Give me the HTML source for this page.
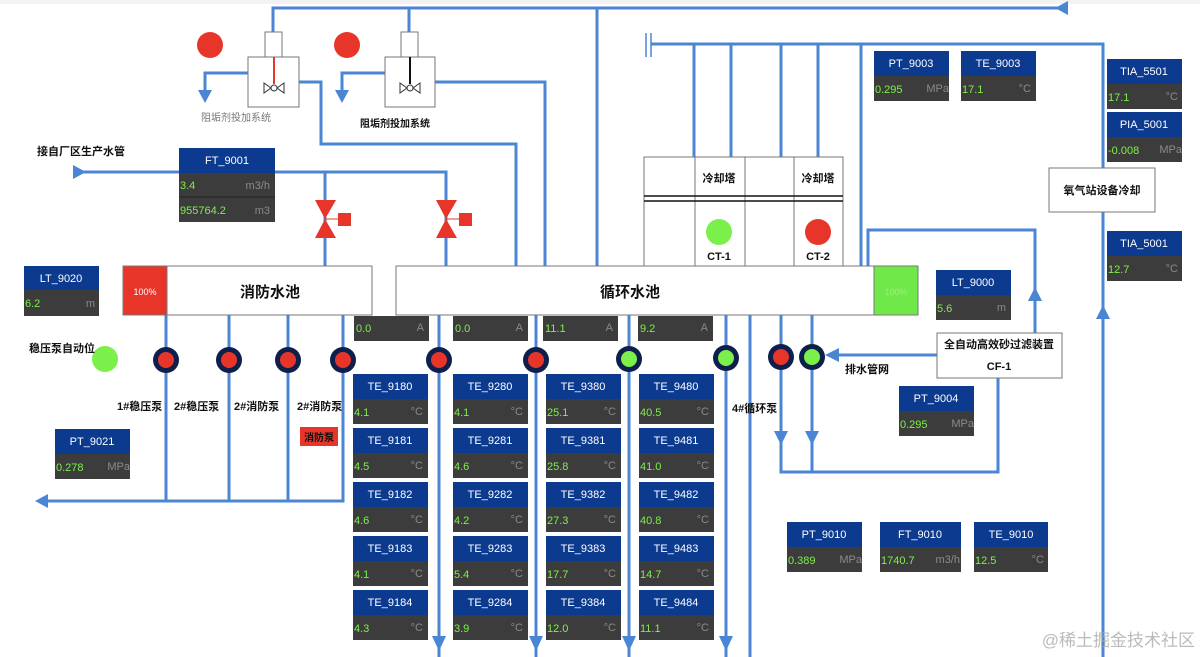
<!DOCTYPE html>
<html><head><meta charset="utf-8"><style>
html,body{margin:0;padding:0;background:#fff;}
svg{display:block;font-family:"Liberation Sans","Noto Sans CJK SC",sans-serif;}
.p{stroke:#4a86d4;stroke-width:3;fill:none;}
.a{fill:#4a86d4;}
.hd{fill:#0c3a8e;}
.bd{fill:#3c3c3c;}
.ht{fill:#fff;font-size:11px;text-anchor:middle;}
.v{fill:#7cf04a;font-size:11px;}
.u{fill:#8a8a8a;font-size:11px;text-anchor:end;}
.lb{fill:#111;font-size:11px;font-weight:bold;}
.bx{fill:#fff;stroke:#777;stroke-width:1;}
</style></head><body>
<svg width="1200" height="657" viewBox="0 0 1200 657" xmlns="http://www.w3.org/2000/svg">
<rect x="0" y="0" width="1200" height="4" fill="#f3f3f3"/>
<path class="p" d="M273 32V8H1062M409 32V8M597 8V266"/>
<polygon class="a" points="1055,8 1068,1 1068,15"/>
<path class="p" d="M651 44H1103V168M694 44V157M731 44V157M781 44V157M818 44V157M861 44V266"/>
<path d="M646 33V57M651 33V57" stroke="#4a86d4" stroke-width="1.5"/>
<path class="p" d="M248 73H205V92M298 82H321V144H516V266"/>
<polygon class="a" points="198,90 212,90 205,103"/>
<path class="p" d="M385 73H342V92M435 82H545V266"/>
<polygon class="a" points="335,90 349,90 342,103"/>
<circle cx="210" cy="45" r="13" fill="#e8352a"/>
<circle cx="347" cy="45" r="13" fill="#e8352a"/>
<rect class="bx" x="265" y="32" width="17" height="25"/><rect class="bx" x="248" y="57" width="51" height="50"/>
<line x1="274" y1="57" x2="274" y2="84" stroke="#e8352a" stroke-width="2"/>
<path d="M264 83L271 88L264 93ZM284 83L277 88L284 93Z" fill="#fff" stroke="#333" stroke-width="1"/><circle cx="274" cy="88" r="3" fill="#fff" stroke="#333"/>
<rect class="bx" x="401" y="32" width="17" height="25"/><rect class="bx" x="385" y="57" width="50" height="50"/>
<line x1="410" y1="57" x2="410" y2="84" stroke="#111" stroke-width="2"/>
<path d="M400 83L407 88L400 93ZM420 83L413 88L420 93Z" fill="#fff" stroke="#333" stroke-width="1"/><circle cx="410" cy="88" r="3" fill="#fff" stroke="#333"/>
<text x="201" y="121" font-size="10" fill="#777">阻垢剂投加系统</text>
<text x="360" y="127" font-size="10" fill="#111" font-weight="bold">阻垢剂投加系统</text>
<text x="37" y="155" class="lb" font-size="10">接自厂区生产水管</text>
<path class="p" d="M82 172H446V266M325 172V266"/>
<polygon class="a" points="73,165 86,172 73,179"/>
<g fill="#e8352a">
<polygon points="315,200 336,200 325,219"/><polygon points="315,238 336,238 325,219"/><rect x="338" y="213" width="13" height="13"/><line x1="325" y1="219" x2="338" y2="219" stroke="#e8352a"/>
<polygon points="436,200 457,200 446,219"/><polygon points="436,238 457,238 446,219"/><rect x="459" y="213" width="13" height="13"/><line x1="446" y1="219" x2="459" y2="219" stroke="#e8352a"/>
</g>
<rect class="hd" x="179" y="148" width="96" height="25"/><text class="ht" x="227" y="164">FT_9001</text>
<rect class="bd" x="179" y="173" width="96" height="49"/><line x1="179" y1="197" x2="275" y2="197" stroke="#222"/>
<text class="v" x="180" y="189">3.4</text><text class="u" x="270" y="189">m3/h</text>
<text class="v" x="180" y="214">955764.2</text><text class="u" x="270" y="214">m3</text>
<rect class="bx" x="644" y="157" width="199" height="109"/>
<path d="M695 157V266M745 157V266M794 157V266" stroke="#777"/>
<path d="M644 196H843M644 201H843" stroke="#111" stroke-width="1.5"/>
<text x="719" y="182" text-anchor="middle" class="lb">冷却塔</text><text x="818" y="182" text-anchor="middle" class="lb">冷却塔</text>
<circle cx="719" cy="232" r="13" fill="#7cf04a"/><circle cx="818" cy="232" r="13" fill="#e8352a"/>
<text x="719" y="260" text-anchor="middle" class="lb" font-size="10">CT-1</text><text x="818" y="260" text-anchor="middle" class="lb" font-size="10">CT-2</text>
<path class="p" d="M868 266V230H1035V333M1103 212V657"/>
<polygon class="a" points="1028,301 1035,287 1042,301"/>
<polygon class="a" points="1096,319 1103,305 1110,319"/>
<rect class="bx" x="1049" y="168" width="106" height="44"/>
<text x="1102" y="194" text-anchor="middle" class="lb">氧气站设备冷却</text>
<rect class="bx" x="123" y="266" width="249" height="49"/><rect x="123" y="266" width="44" height="49" fill="#e8352a" stroke="#777"/>
<text x="145" y="295" font-size="9" fill="#fff" text-anchor="middle">100%</text>
<text x="270" y="297" text-anchor="middle" font-size="15" font-weight="bold" fill="#111">消防水池</text>
<rect class="bx" x="396" y="266" width="522" height="49"/><rect x="874" y="266" width="44" height="49" fill="#6fe84a" stroke="#777"/>
<text x="896" y="295" font-size="9" fill="#9ff07a" text-anchor="middle">100%</text>
<text x="630" y="297" text-anchor="middle" font-size="15" font-weight="bold" fill="#111">循环水池</text>
<path class="p" d="M166 315V501M229 315V501M288 315V501M343 315V501H46"/>
<polygon class="a" points="35,501 48,494 48,508"/>
<path class="p" d="M439 315V657M536 315V657M629 315V657M726 315V657M750 315V657M781 315V472H998V378M812 315V472"/>
<g class="a"><polygon points="432,636 446,636 439,651"/><polygon points="529,636 543,636 536,651"/><polygon points="622,636 636,636 629,651"/><polygon points="719,636 733,636 726,651"/><polygon points="774,431 788,431 781,445"/><polygon points="805,431 819,431 812,445"/></g>
<path class="p" d="M937 355H834"/><polygon class="a" points="825,355 839,348 839,362"/>
<g fill="#0d1f4a"><circle cx="166" cy="360" r="13"/><circle cx="229" cy="360" r="13"/><circle cx="288" cy="360" r="13"/><circle cx="343" cy="360" r="13"/><circle cx="439" cy="360" r="13"/><circle cx="536" cy="360" r="13"/><circle cx="629" cy="359" r="13"/><circle cx="726" cy="358" r="13"/><circle cx="781" cy="357" r="13"/><circle cx="812" cy="357" r="13"/></g>
<g fill="#e8352a"><circle cx="166" cy="360" r="8"/><circle cx="229" cy="360" r="8"/><circle cx="288" cy="360" r="8"/><circle cx="343" cy="360" r="8"/><circle cx="439" cy="360" r="8"/><circle cx="536" cy="360" r="8"/><circle cx="781" cy="357" r="8"/></g>
<g fill="#7cf04a"><circle cx="629" cy="359" r="8"/><circle cx="726" cy="358" r="8"/><circle cx="812" cy="357" r="8"/></g>
<circle cx="105" cy="359" r="13" fill="#7cf04a"/>
<text x="29" y="352" class="lb" font-size="10">稳压泵自动位</text>
<text x="117" y="410" class="lb" font-size="10">1#稳压泵</text>
<text x="174" y="410" class="lb" font-size="10">2#稳压泵</text>
<text x="234" y="410" class="lb" font-size="10">2#消防泵</text>
<text x="297" y="410" class="lb" font-size="10">2#消防泵</text>
<rect x="300" y="427" width="38" height="19" fill="#e8352a"/><text x="319" y="441" text-anchor="middle" font-size="10" fill="#111" font-weight="bold">消防泵</text>
<text x="732" y="412" class="lb" font-size="10">4#循环泵</text>
<text x="845" y="373" class="lb" font-size="10">排水管网</text>
<rect class="bx" x="937" y="333" width="125" height="45"/>
<text x="999" y="348" text-anchor="middle" class="lb">全自动高效砂过滤装置</text>
<text x="999" y="370" text-anchor="middle" class="lb" font-size="10">CF-1</text>
<g>
<rect class="bd" x="354" y="316" width="75" height="25"/><text class="v" x="356" y="332">0.0</text><text class="u" x="424" y="331">A</text>
<rect class="bd" x="453" y="316" width="75" height="25"/><text class="v" x="455" y="332">0.0</text><text class="u" x="523" y="331">A</text>
<rect class="bd" x="543" y="316" width="75" height="25"/><text class="v" x="545" y="332">11.1</text><text class="u" x="613" y="331">A</text>
<rect class="bd" x="638" y="316" width="75" height="25"/><text class="v" x="640" y="332">9.2</text><text class="u" x="708" y="331">A</text>
</g>
<g>
<rect class="hd" x="24" y="266" width="75" height="24"/><text class="ht" x="61" y="282">LT_9020</text><rect class="bd" x="24" y="290" width="75" height="26"/><text class="v" x="25" y="307">6.2</text><text class="u" x="95" y="307">m</text>
<rect class="hd" x="55" y="429" width="75" height="25"/><text class="ht" x="92" y="445">PT_9021</text><rect class="bd" x="55" y="454" width="75" height="25"/><text class="v" x="56" y="471">0.278</text><text class="u" x="130" y="470">MPa</text>
<rect class="hd" x="874" y="51" width="75" height="25"/><text class="ht" x="911" y="67">PT_9003</text><rect class="bd" x="874" y="76" width="75" height="25"/><text class="v" x="875" y="93">0.295</text><text class="u" x="949" y="92">MPa</text>
<rect class="hd" x="961" y="51" width="75" height="25"/><text class="ht" x="998" y="67">TE_9003</text><rect class="bd" x="961" y="76" width="75" height="25"/><text class="v" x="962" y="93">17.1</text><text class="u" x="1031" y="92">°C</text>
<rect class="hd" x="1107" y="59" width="75" height="25"/><text class="ht" x="1144" y="75">TIA_5501</text><rect class="bd" x="1107" y="84" width="75" height="25"/><text class="v" x="1108" y="101">17.1</text><text class="u" x="1178" y="100">°C</text>
<rect class="hd" x="1107" y="112" width="75" height="25"/><text class="ht" x="1144" y="128">PIA_5001</text><rect class="bd" x="1107" y="137" width="75" height="25"/><text class="v" x="1108" y="154">-0.008</text><text class="u" x="1182" y="153">MPa</text>
<rect class="hd" x="1107" y="231" width="75" height="25"/><text class="ht" x="1144" y="247">TIA_5001</text><rect class="bd" x="1107" y="256" width="75" height="25"/><text class="v" x="1108" y="273">12.7</text><text class="u" x="1178" y="272">°C</text>
<rect class="hd" x="936" y="270" width="75" height="25"/><text class="ht" x="973" y="286">LT_9000</text><rect class="bd" x="936" y="295" width="75" height="25"/><text class="v" x="937" y="312">5.6</text><text class="u" x="1006" y="311">m</text>
<rect class="hd" x="899" y="386" width="75" height="25"/><text class="ht" x="936" y="402">PT_9004</text><rect class="bd" x="899" y="411" width="75" height="25"/><text class="v" x="900" y="428">0.295</text><text class="u" x="974" y="427">MPa</text>
<rect class="hd" x="787" y="522" width="75" height="25"/><text class="ht" x="824" y="538">PT_9010</text><rect class="bd" x="787" y="547" width="75" height="25"/><text class="v" x="788" y="564">0.389</text><text class="u" x="862" y="563">MPa</text>
<rect class="hd" x="880" y="522" width="81" height="25"/><text class="ht" x="920" y="538">FT_9010</text><rect class="bd" x="880" y="547" width="81" height="25"/><text class="v" x="881" y="564">1740.7</text><text class="u" x="960" y="563">m3/h</text>
<rect class="hd" x="974" y="522" width="74" height="25"/><text class="ht" x="1011" y="538">TE_9010</text><rect class="bd" x="974" y="547" width="74" height="25"/><text class="v" x="975" y="564">12.5</text><text class="u" x="1044" y="563">°C</text>
</g>
<g>
<rect class="hd" x="353" y="374" width="75" height="25"/><text class="ht" x="390" y="390">TE_9180</text><rect class="bd" x="353" y="399" width="75" height="25"/><text class="v" x="354" y="416">4.1</text><text class="u" x="423" y="415">°C</text>
<rect class="hd" x="353" y="428" width="75" height="25"/><text class="ht" x="390" y="444">TE_9181</text><rect class="bd" x="353" y="453" width="75" height="25"/><text class="v" x="354" y="470">4.5</text><text class="u" x="423" y="469">°C</text>
<rect class="hd" x="353" y="482" width="75" height="25"/><text class="ht" x="390" y="498">TE_9182</text><rect class="bd" x="353" y="507" width="75" height="25"/><text class="v" x="354" y="524">4.6</text><text class="u" x="423" y="523">°C</text>
<rect class="hd" x="353" y="536" width="75" height="25"/><text class="ht" x="390" y="552">TE_9183</text><rect class="bd" x="353" y="561" width="75" height="25"/><text class="v" x="354" y="578">4.1</text><text class="u" x="423" y="577">°C</text>
<rect class="hd" x="353" y="590" width="75" height="25"/><text class="ht" x="390" y="606">TE_9184</text><rect class="bd" x="353" y="615" width="75" height="25"/><text class="v" x="354" y="632">4.3</text><text class="u" x="423" y="631">°C</text>
<rect class="hd" x="453" y="374" width="75" height="25"/><text class="ht" x="490" y="390">TE_9280</text><rect class="bd" x="453" y="399" width="75" height="25"/><text class="v" x="454" y="416">4.1</text><text class="u" x="523" y="415">°C</text>
<rect class="hd" x="453" y="428" width="75" height="25"/><text class="ht" x="490" y="444">TE_9281</text><rect class="bd" x="453" y="453" width="75" height="25"/><text class="v" x="454" y="470">4.6</text><text class="u" x="523" y="469">°C</text>
<rect class="hd" x="453" y="482" width="75" height="25"/><text class="ht" x="490" y="498">TE_9282</text><rect class="bd" x="453" y="507" width="75" height="25"/><text class="v" x="454" y="524">4.2</text><text class="u" x="523" y="523">°C</text>
<rect class="hd" x="453" y="536" width="75" height="25"/><text class="ht" x="490" y="552">TE_9283</text><rect class="bd" x="453" y="561" width="75" height="25"/><text class="v" x="454" y="578">5.4</text><text class="u" x="523" y="577">°C</text>
<rect class="hd" x="453" y="590" width="75" height="25"/><text class="ht" x="490" y="606">TE_9284</text><rect class="bd" x="453" y="615" width="75" height="25"/><text class="v" x="454" y="632">3.9</text><text class="u" x="523" y="631">°C</text>
<rect class="hd" x="546" y="374" width="75" height="25"/><text class="ht" x="583" y="390">TE_9380</text><rect class="bd" x="546" y="399" width="75" height="25"/><text class="v" x="547" y="416">25.1</text><text class="u" x="616" y="415">°C</text>
<rect class="hd" x="546" y="428" width="75" height="25"/><text class="ht" x="583" y="444">TE_9381</text><rect class="bd" x="546" y="453" width="75" height="25"/><text class="v" x="547" y="470">25.8</text><text class="u" x="616" y="469">°C</text>
<rect class="hd" x="546" y="482" width="75" height="25"/><text class="ht" x="583" y="498">TE_9382</text><rect class="bd" x="546" y="507" width="75" height="25"/><text class="v" x="547" y="524">27.3</text><text class="u" x="616" y="523">°C</text>
<rect class="hd" x="546" y="536" width="75" height="25"/><text class="ht" x="583" y="552">TE_9383</text><rect class="bd" x="546" y="561" width="75" height="25"/><text class="v" x="547" y="578">17.7</text><text class="u" x="616" y="577">°C</text>
<rect class="hd" x="546" y="590" width="75" height="25"/><text class="ht" x="583" y="606">TE_9384</text><rect class="bd" x="546" y="615" width="75" height="25"/><text class="v" x="547" y="632">12.0</text><text class="u" x="616" y="631">°C</text>
<rect class="hd" x="639" y="374" width="75" height="25"/><text class="ht" x="676" y="390">TE_9480</text><rect class="bd" x="639" y="399" width="75" height="25"/><text class="v" x="640" y="416">40.5</text><text class="u" x="709" y="415">°C</text>
<rect class="hd" x="639" y="428" width="75" height="25"/><text class="ht" x="676" y="444">TE_9481</text><rect class="bd" x="639" y="453" width="75" height="25"/><text class="v" x="640" y="470">41.0</text><text class="u" x="709" y="469">°C</text>
<rect class="hd" x="639" y="482" width="75" height="25"/><text class="ht" x="676" y="498">TE_9482</text><rect class="bd" x="639" y="507" width="75" height="25"/><text class="v" x="640" y="524">40.8</text><text class="u" x="709" y="523">°C</text>
<rect class="hd" x="639" y="536" width="75" height="25"/><text class="ht" x="676" y="552">TE_9483</text><rect class="bd" x="639" y="561" width="75" height="25"/><text class="v" x="640" y="578">14.7</text><text class="u" x="709" y="577">°C</text>
<rect class="hd" x="639" y="590" width="75" height="25"/><text class="ht" x="676" y="606">TE_9484</text><rect class="bd" x="639" y="615" width="75" height="25"/><text class="v" x="640" y="632">11.1</text><text class="u" x="709" y="631">°C</text>
</g>
<text x="1195" y="646" text-anchor="end" font-size="17" fill="#aaa" fill-opacity="0.8">@稀土掘金技术社区</text>
</svg>
</body></html>
